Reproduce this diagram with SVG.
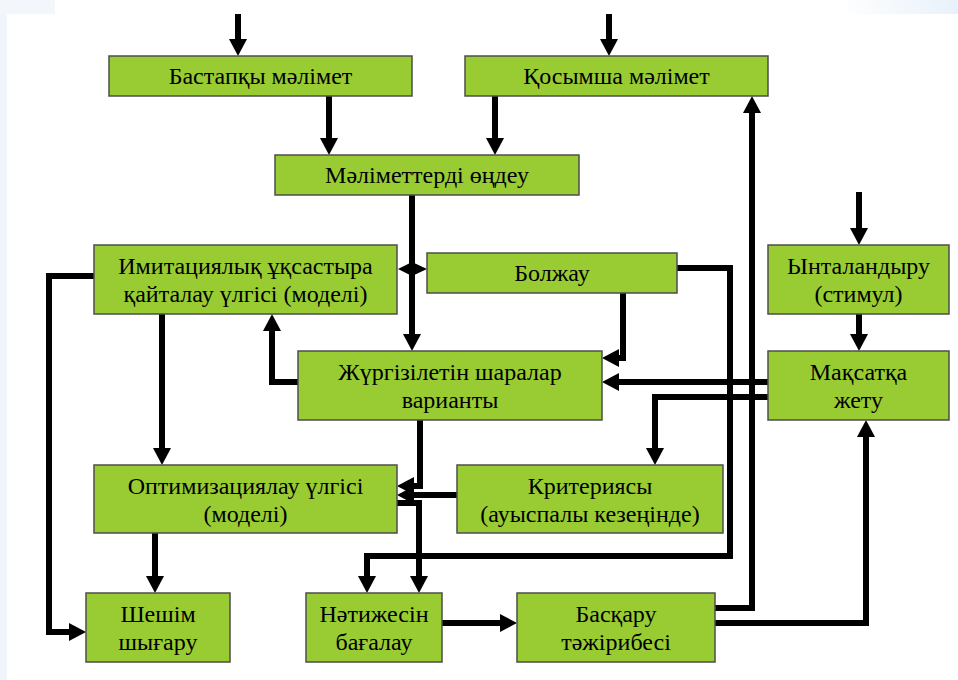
<svg xmlns="http://www.w3.org/2000/svg" width="958" height="680" viewBox="0 0 958 680">
  <style>
    .box { fill: #99cc33; stroke: #4d4d4d; stroke-width: 1.5; }
    .con { fill: none; stroke: #000; stroke-width: 6; stroke-linejoin: miter; marker-end: url(#ah); }
    text { font-family: "Liberation Serif", "DejaVu Serif", serif; font-size: 24px; fill: #000; text-anchor: middle; }
  </style>
  <defs>
    <marker id="ah" markerUnits="userSpaceOnUse" markerWidth="18" markerHeight="18" refX="7" refY="9" orient="auto" viewBox="0 0 18 18">
      <path d="M0,0 L17,9 L0,18 Z" fill="#000"/>
    </marker>
    <linearGradient id="tr" x1="0" y1="0" x2="1" y2="0">
      <stop offset="0" stop-color="#ffffff"/>
      <stop offset="1" stop-color="#e8f1fa"/>
    </linearGradient>
  </defs>
  <rect x="0" y="0" width="958" height="680" fill="#ffffff"/>
  <rect x="0" y="0" width="7" height="680" fill="#f0f5fc"/>
  <rect x="0" y="0" width="55" height="14" fill="#f3f7fc"/>
  <rect x="840" y="0" width="118" height="14" fill="url(#tr)"/>

  <g id="connectors">
    <path class="con" d="M238,14 V46"/>
    <path class="con" d="M609,14 V46"/>
    <path class="con" d="M329,96 V145"/>
    <path class="con" d="M495,96 V145"/>
    <path class="con" d="M412,195 V341"/>
    <polygon points="398,269 412,262 427,269 412,276" fill="#000"/>
    <path class="con" d="M623,293 V358 H612"/>
    <path class="con" d="M677,268 H730 V556 H367 V583"/>
    <path class="con" d="M768,382 H612"/>
    <path class="con" d="M768,397 H655 V455"/>
    <path class="con" d="M715,608 H752 V106"/>
    <path class="con" d="M715,623 H866 V430"/>
    <path class="con" d="M859,192 V235"/>
    <path class="con" d="M859,314 V341"/>
    <path class="con" d="M94,276 H49 V632 H76"/>
    <path class="con" d="M162,314 V455"/>
    <path class="con" d="M298,382 H272 V324"/>
    <path class="con" d="M420,420 V486 H407"/>
    <path class="con" d="M457,495 H407"/>
    <path class="con" d="M397,503 H419 V583"/>
    <path class="con" d="M155,533 V583"/>
    <path class="con" d="M442,623 H507"/>
  </g>

  <g id="n-bastapky">
    <rect class="box" x="109" y="56" width="303" height="40"/>
    <text x="260.5" y="84">Бастапқы мәлімет</text>
  </g>
  <g id="n-kosymsha">
    <rect class="box" x="465" y="56" width="303" height="40"/>
    <text x="616.5" y="84">Қосымша мәлімет</text>
  </g>
  <g id="n-ondeu">
    <rect class="box" x="275" y="155" width="304" height="40"/>
    <text x="427" y="183">Мәліметтерді өңдеу</text>
  </g>
  <g id="n-imitacia">
    <rect class="box" x="94" y="245" width="303" height="69"/>
    <text x="245.5" y="274">Имитациялық ұқсастыра</text>
    <text x="245.5" y="302">қайталау үлгісі (моделі)</text>
  </g>
  <g id="n-bolzhau">
    <rect class="box" x="427" y="253" width="250" height="40"/>
    <text x="552" y="281">Болжау</text>
  </g>
  <g id="n-yntalandyru">
    <rect class="box" x="768" y="245" width="181" height="69"/>
    <text x="858.5" y="274">Ынталандыру</text>
    <text x="858.5" y="302">(стимул)</text>
  </g>
  <g id="n-zhurgiziletin">
    <rect class="box" x="298" y="351" width="304" height="69"/>
    <text x="450" y="380">Жүргізілетін шаралар</text>
    <text x="450" y="408">варианты</text>
  </g>
  <g id="n-maksatka">
    <rect class="box" x="768" y="351" width="181" height="69"/>
    <text x="858.5" y="380">Мақсатқа</text>
    <text x="858.5" y="408">жету</text>
  </g>
  <g id="n-optimizacia">
    <rect class="box" x="94" y="465" width="303" height="68"/>
    <text x="245.5" y="494">Оптимизациялау үлгісі</text>
    <text x="245.5" y="522">(моделі)</text>
  </g>
  <g id="n-kriteriyasy">
    <rect class="box" x="457" y="465" width="266" height="68"/>
    <text x="590" y="494">Критериясы</text>
    <text x="590" y="522">(ауыспалы кезеңінде)</text>
  </g>
  <g id="n-sheshim">
    <rect class="box" x="86" y="593" width="144" height="69"/>
    <text x="158" y="622">Шешім</text>
    <text x="158" y="650">шығару</text>
  </g>
  <g id="n-natizhesin">
    <rect class="box" x="306" y="593" width="136" height="69"/>
    <text x="374" y="622">Нәтижесін</text>
    <text x="374" y="650">бағалау</text>
  </g>
  <g id="n-baskaru">
    <rect class="box" x="517" y="593" width="198" height="69"/>
    <text x="616" y="622">Басқару</text>
    <text x="616" y="650">тәжірибесі</text>
  </g>
</svg>
